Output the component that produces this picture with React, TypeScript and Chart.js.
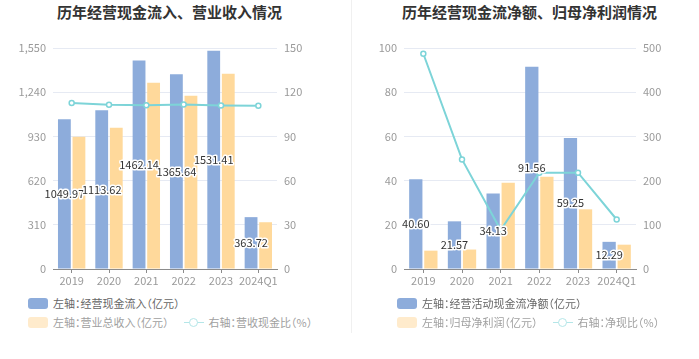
import React, { useEffect, useRef } from 'react';
import { Chart, registerables } from 'chart.js';

Chart.register(...registerables);

// ---------- data ----------
const years = ['2019', '2020', '2021', '2022', '2023', '2024Q1'];

const cashInflow = [1049.97, 1113.62, 1462.14, 1365.64, 1531.41, 363.72];
const revenue = [928, 990, 1306, 1215, 1370, 328];
const cashRevenueRatio = [112.6, 111.5, 111.2, 111.7, 111.0, 110.8];

const netCashFlow = [40.6, 21.57, 34.13, 91.56, 59.25, 12.29];
const netProfit = [8.3, 8.8, 39.0, 41.7, 27.0, 11.0];
const netCashRatio = [487, 248, 88, 218, 218, 112];

const title1 = '历年经营现金流入、营业收入情况';
const title2 = '历年经营现金流净额、归母净利润情况';
const legend1 = ['左轴：经营现金流入（亿元）', '左轴：营业总收入（亿元）', '右轴：营收现金比（%）'];
const legend2 = ['左轴：经营活动现金流净额（亿元）', '左轴：归母净利润（亿元）', '右轴：净现比（%）'];

// ---------- styles ----------
const FONT = '"Noto Sans CJK SC", "Noto Sans", sans-serif';
const BLUE = '#8dacdb';
const ORANGE = '#ffd99b';
const TEAL = '#7dd4d8';
const GRID = '#e6eaf3';
const TICK = '#9a9a9a';

const labelPlugin = {
  id: 'barLabels',
  afterDatasetsDraw(chart: any) {
    const ctx = chart.ctx;
    const meta = chart.getDatasetMeta(0);
    const data = chart.data.datasets[0].data as number[];
    ctx.save();
    ctx.font = `11px ${FONT}`;
    ctx.textAlign = 'center';
    ctx.textBaseline = 'middle';
    ctx.lineJoin = 'round';
    meta.data.forEach((el: any, i: number) => {
      const p = el.getProps(['x', 'y', 'base'], true);
      const ty = (p.y + p.base) / 2;
      const txt = data[i].toFixed(2);
      ctx.strokeStyle = '#fff';
      ctx.lineWidth = 3;
      ctx.strokeText(txt, p.x, ty);
      ctx.fillStyle = '#333';
      ctx.fillText(txt, p.x, ty);
    });
    ctx.restore();
  },
};

type PanelProps = {
  left: number;
  width: number;
  leftW: number;
  rightW: number;
  barA: number[];
  barB: number[];
  line: number[];
  yMax: number;
  yStep: number;
  y1Max: number;
  y1Step: number;
  labels: string[];
};

function ChartPanel(p: PanelProps) {
  const ref = useRef<HTMLCanvasElement | null>(null);
  useEffect(() => {
    if (!ref.current) return;
    const tickFont = { size: 11, family: FONT };
    const chart = new Chart(ref.current, {
      type: 'bar',
      data: {
        labels: years,
        datasets: [
          {
            type: 'bar',
            label: p.labels[0],
            data: p.barA,
            backgroundColor: BLUE,
            yAxisID: 'y',
            order: 1,
            categoryPercentage: 0.78,
            barPercentage: 0.88,
          },
          {
            type: 'bar',
            label: p.labels[1],
            data: p.barB,
            backgroundColor: ORANGE,
            yAxisID: 'y',
            order: 1,
            categoryPercentage: 0.78,
            barPercentage: 0.88,
          },
          {
            type: 'line',
            label: p.labels[2],
            data: p.line,
            borderColor: TEAL,
            borderWidth: 2,
            pointRadius: 2.5,
            pointBorderWidth: 1.5,
            pointBackgroundColor: '#fff',
            pointBorderColor: TEAL,
            yAxisID: 'y1',
            order: 0,
            tension: 0,
          },
        ] as any,
      },
      options: {
        animation: false,
        responsive: false,
        maintainAspectRatio: false,
        layout: { padding: { top: 48, left: 0, right: 0, bottom: 0 } },
        plugins: {
          legend: { display: false },
          tooltip: { enabled: false },
          title: { display: false },
        },
        scales: {
          x: {
            grid: {
              display: true,
              drawOnChartArea: false,
              drawTicks: true,
              tickLength: 4,
              offset: false,
              color: '#8c8c8c',
            },
            border: { display: true, color: '#8c8c8c' },
            ticks: { color: TICK, font: tickFont, padding: 1, maxRotation: 0, autoSkip: false },
            afterFit: (s: any) => {
              s.height = 26;
            },
          },
          y: {
            position: 'left',
            min: 0,
            max: p.yMax,
            ticks: {
              stepSize: p.yStep,
              color: TICK,
              font: tickFont,
              padding: 7,
              callback: (v: any) => Number(v).toLocaleString('en-US'),
            },
            grid: { color: GRID, drawTicks: false },
            border: { display: false },
            afterFit: (s: any) => {
              s.width = p.leftW;
            },
          },
          y1: {
            position: 'right',
            min: 0,
            max: p.y1Max,
            ticks: {
              stepSize: p.y1Step,
              color: TICK,
              font: tickFont,
              padding: 7,
              callback: (v: any) => Number(v).toLocaleString('en-US'),
            },
            grid: { drawOnChartArea: false, drawTicks: false },
            border: { display: false },
            afterFit: (s: any) => {
              s.width = p.rightW;
            },
          },
        },
      } as any,
      plugins: [labelPlugin],
    });
    return () => chart.destroy();
  }, []);
  return (
    <canvas
      ref={ref}
      width={p.width}
      height={295}
      style={{ position: 'absolute', left: p.left, top: 0, width: p.width, height: 295, display: 'block' }}
    />
  );
}

function BoxMarker({ color }: { color: string }) {
  return (
    <span
      style={{
        display: 'inline-block',
        width: 20,
        height: 11,
        borderRadius: 3,
        background: color,
        marginRight: 5,
        flex: 'none',
      }}
    />
  );
}

function LineMarker() {
  return (
    <span style={{ position: 'relative', display: 'inline-block', width: 20, height: 11, marginRight: 5, flex: 'none' }}>
      <span style={{ position: 'absolute', left: 0, top: 5, width: 20, height: 1.5, background: '#b4e6e8' }} />
      <span
        style={{
          position: 'absolute',
          left: 5.5,
          top: 1,
          width: 7,
          height: 7,
          borderRadius: '50%',
          border: '1.5px solid #b4e6e8',
          background: '#fff',
        }}
      />
    </span>
  );
}

function Legend({ left, labels }: { left: number; labels: string[] }) {
  const row: React.CSSProperties = {
    position: 'absolute',
    left,
    display: 'flex',
    alignItems: 'center',
    height: 14,
    fontSize: 11,
    fontFamily: FONT,
    whiteSpace: 'nowrap',
    fontFeatureSettings: '"halt"',
    lineHeight: '14px',
  };
  return (
    <>
      <div style={{ ...row, top: 296, color: '#666' }}>
        <BoxMarker color={BLUE} />
        <span>{labels[0]}</span>
      </div>
      <div style={{ ...row, top: 315, color: '#a0a0a0' }}>
        <BoxMarker color="#ffebcc" />
        <span style={{ marginRight: 15 }}>{labels[1]}</span>
        <LineMarker />
        <span>{labels[2]}</span>
      </div>
    </>
  );
}

function Title({ cx, text }: { cx: number; text: string }) {
  return (
    <div
      style={{
        position: 'absolute',
        left: cx - 200,
        width: 400,
        top: 0,
        height: 24,
        lineHeight: '24px',
        textAlign: 'center',
        fontSize: 15,
        fontWeight: 'bold',
        color: '#333',
        fontFamily: FONT,
      }}
    >
      {text}
    </div>
  );
}

export default function App() {
  useEffect(() => {
    document.body.style.margin = '0';
  }, []);
  return (
    <div
      style={{
        position: 'fixed',
        left: 0,
        top: 0,
        width: 699,
        height: 359,
        background: '#fff',
        overflow: 'hidden',
      }}
    >
      <Title cx={169.5} text={title1} />
      <Title cx={529.5} text={title2} />
      <ChartPanel
        left={0}
        width={349}
        leftW={53}
        rightW={72}
        barA={cashInflow}
        barB={revenue}
        line={cashRevenueRatio}
        yMax={1550}
        yStep={310}
        y1Max={150}
        y1Step={30}
        labels={legend1}
      />
      <ChartPanel
        left={349}
        width={350}
        leftW={55}
        rightW={63}
        barA={netCashFlow}
        barB={netProfit}
        line={netCashRatio}
        yMax={100}
        yStep={20}
        y1Max={500}
        y1Step={100}
        labels={legend2}
      />
      <div style={{ position: 'absolute', left: 351, top: 0, width: 1, height: 333, background: '#f0f0f0' }} />
      <Legend left={28} labels={legend1} />
      <Legend left={397} labels={legend2} />
    </div>
  );
}
